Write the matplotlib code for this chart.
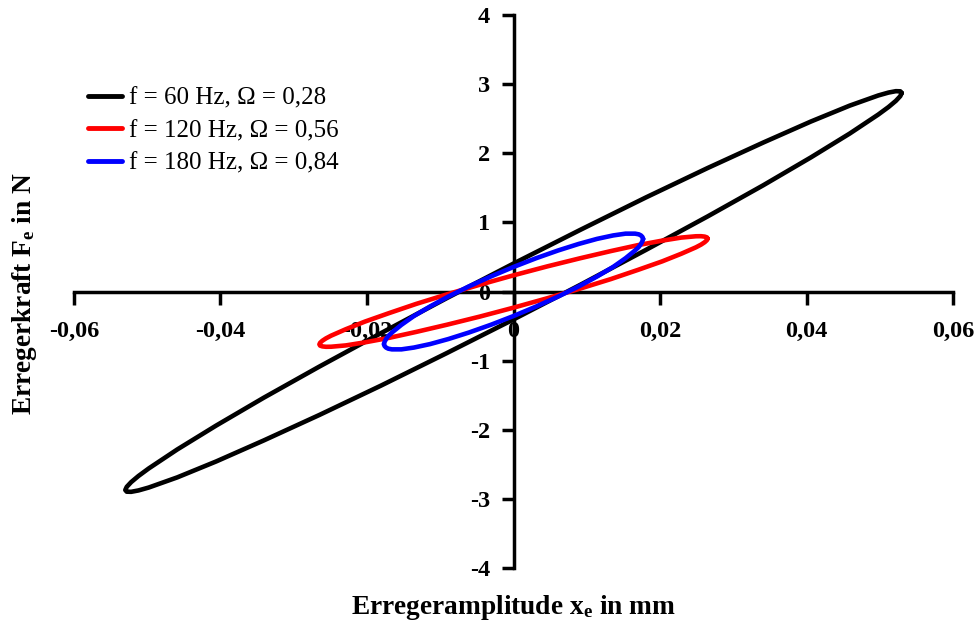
import numpy as np
import matplotlib
matplotlib.use("Agg")
import matplotlib.pyplot as plt

plt.rcParams['font.family'] = ['Liberation Serif', 'DejaVu Serif']
plt.rcParams['mathtext.fontset'] = 'custom'
plt.rcParams['mathtext.rm'] = 'Liberation Serif'
plt.rcParams['mathtext.bf'] = 'Liberation Serif:bold'
plt.rcParams['mathtext.it'] = 'Liberation Serif:italic'

# ---- data (loop points, x in mm, F in N) ----
x_60 = [0.0530, 0.0528, 0.0522, 0.0512, 0.0498, 0.0459, 0.0406, 0.0341, 0.0265, 0.0181, 0.0092, 0.0,
        -0.0092, -0.0181, -0.0265, -0.0341, -0.0406, -0.0459, -0.0498, -0.0512, -0.0522, -0.0528,
        -0.0530, -0.0528, -0.0522, -0.0512, -0.0498, -0.0459, -0.0406, -0.0341, -0.0265, -0.0181,
        -0.0092, 0.0, 0.0092, 0.0181, 0.0265, 0.0341, 0.0406, 0.0459, 0.0498, 0.0512, 0.0522, 0.0528]
F_60 = [2.872, 2.896, 2.898, 2.878, 2.836, 2.689, 2.459, 2.155, 1.786, 1.362, 0.896, 0.404,
        -0.101, -0.603, -1.086, -1.537, -1.940, -2.285, -2.560, -2.669, -2.758, -2.826,
        -2.872, -2.896, -2.898, -2.878, -2.836, -2.689, -2.459, -2.155, -1.786, -1.362,
        -0.896, -0.404, 0.101, 0.603, 1.086, 1.537, 1.940, 2.285, 2.560, 2.669, 2.758, 2.826]

x_120 = [0.0265, 0.0264, 0.0261, 0.0256, 0.0249, 0.0229, 0.0203, 0.0170, 0.0133, 0.0091, 0.0046, 0.0,
         -0.0046, -0.0091, -0.0133, -0.0170, -0.0203, -0.0229, -0.0249, -0.0256, -0.0261, -0.0264,
         -0.0265, -0.0264, -0.0261, -0.0256, -0.0249, -0.0229, -0.0203, -0.0170, -0.0133, -0.0091,
         -0.0046, 0.0, 0.0046, 0.0091, 0.0133, 0.0170, 0.0203, 0.0229, 0.0249, 0.0256, 0.0261, 0.0264]
F_120 = [0.765, 0.783, 0.794, 0.800, 0.799, 0.780, 0.736, 0.671, 0.585, 0.481, 0.363, 0.234,
         0.098, -0.042, -0.180, -0.313, -0.436, -0.546, -0.639, -0.678, -0.713, -0.742,
         -0.765, -0.783, -0.794, -0.800, -0.799, -0.780, -0.736, -0.671, -0.585, -0.481,
         -0.363, -0.234, -0.098, 0.042, 0.180, 0.313, 0.436, 0.546, 0.639, 0.678, 0.713, 0.742]

x_180 = [0.0177, 0.0176, 0.0174, 0.0171, 0.0166, 0.0153, 0.0136, 0.0114, 0.0089, 0.0061, 0.0031, 0.0,
         -0.0031, -0.0061, -0.0089, -0.0114, -0.0136, -0.0153, -0.0166, -0.0171, -0.0174, -0.0176,
         -0.0177, -0.0176, -0.0174, -0.0171, -0.0166, -0.0153, -0.0136, -0.0114, -0.0089, -0.0061,
         -0.0031, 0.0, 0.0031, 0.0061, 0.0089, 0.0114, 0.0136, 0.0153, 0.0166, 0.0171, 0.0174, 0.0176]
F_180 = [0.761, 0.789, 0.811, 0.827, 0.837, 0.837, 0.811, 0.761, 0.688, 0.594, 0.482, 0.355,
         0.217, 0.073, -0.073, -0.217, -0.355, -0.482, -0.594, -0.644, -0.688, -0.728,
         -0.761, -0.789, -0.811, -0.827, -0.837, -0.837, -0.811, -0.761, -0.688, -0.594,
         -0.482, -0.355, -0.217, -0.073, 0.073, 0.217, 0.355, 0.482, 0.594, 0.644, 0.688, 0.728]

series_labels = ["f = 60 Hz, \u03A9 = 0,28", "f = 120 Hz, \u03A9 = 0,56", "f = 180 Hz, \u03A9 = 0,84"]
series_colors = ["#000000", "#FF0000", "#0000FF"]

x_ticks = [-0.06, -0.04, -0.02, 0.0, 0.02, 0.04, 0.06]
x_ticklabels = ["-0,06", "-0,04", "-0,02", "0", "0,02", "0,04", "0,06"]
y_ticks = [-4, -3, -2, -1, 0, 1, 2, 3, 4]
y_ticklabels = ["-4", "-3", "-2", "-1", "0", "1", "2", "3", "4"]

# ---- figure ----
W, H = 976, 624
fig = plt.figure(figsize=(W / 100, H / 100), dpi=100)
ax = fig.add_axes([74 / W, 56 / H, 879 / W, 553 / H])
ax.set_xlim(-0.06, 0.06)
ax.set_ylim(-4, 4)

for xs, fs, lab, col in zip([x_60, x_120, x_180], [F_60, F_120, F_180],
                            series_labels, series_colors):
    xx = list(xs) + [xs[0]]
    ff = list(fs) + [fs[0]]
    ax.plot(xx, ff, color=col, lw=3.3, solid_joinstyle='round',
            solid_capstyle='round', label=lab, zorder=3)

for s in ['top', 'right']:
    ax.spines[s].set_visible(False)
ax.spines['left'].set_position(('data', 0))
ax.spines['bottom'].set_position(('data', 0))
for s in ['left', 'bottom']:
    ax.spines[s].set_linewidth(2.5)
    ax.spines[s].set_zorder(2)

ax.set_xticks(x_ticks)
ax.set_xticklabels(x_ticklabels)
ax.set_yticks(y_ticks)
ax.set_yticklabels(y_ticklabels)
ax.tick_params(axis='both', direction='out', length=9, width=2.5, labelsize=17.5)
ax.tick_params(axis='x', pad=12)
ax.tick_params(axis='y', pad=8)
for t in ax.get_xticklabels() + ax.get_yticklabels():
    t.set_fontweight('bold')

fig.text(513 / W, 1 - 608 / H, r"Erregeramplitude x$_\mathbf{e}$ in mm",
         fontsize=19.7, fontweight='bold', ha='center', va='center')
fig.text(25 / W, 1 - 294 / H, r"Erregerkraft F$_\mathbf{e}$ in N",
         fontsize=19.7, fontweight='bold', ha='center', va='center', rotation=90)

leg = ax.legend(loc='upper left', bbox_to_anchor=(88 / W, 1 - 87 / H),
                bbox_transform=fig.transFigure, frameon=False, fontsize=18,
                handlelength=1.35, handletextpad=0.28, labelspacing=0.4,
                borderpad=0, borderaxespad=0)
for line in leg.get_lines():
    line.set_linewidth(3.5)

fig.savefig("out.png", dpi=100)
